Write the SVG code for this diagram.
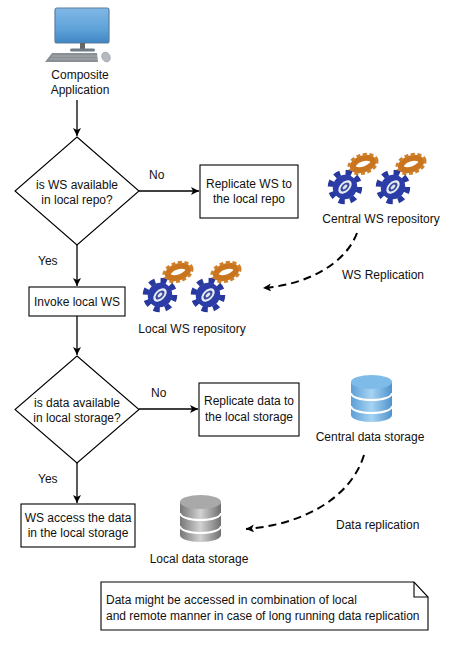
<svg xmlns="http://www.w3.org/2000/svg" xmlns:xlink="http://www.w3.org/1999/xlink" width="457" height="646" viewBox="0 0 457 646">
<style>
text{font-family:"Liberation Sans",Arial,sans-serif;font-size:12px;fill:#111;text-anchor:middle}
.b{fill:#fff;stroke:#000;stroke-width:1.1}
.c{fill:none;stroke:#000;stroke-width:1.3}
.d{fill:none;stroke:#000;stroke-width:2;stroke-dasharray:8 5}
.l{text-anchor:start}
</style>
<defs>
<marker id="a" markerUnits="userSpaceOnUse" markerWidth="10" markerHeight="10" refX="8" refY="4" orient="auto"><path d="M0 0L8 4L0 8L2 4Z" fill="#000"/></marker>
<linearGradient id="sc" x1="0" y1="0" x2="0" y2="1"><stop offset="0" stop-color="#7fb8e6"/><stop offset=".6" stop-color="#5fa2d8"/><stop offset="1" stop-color="#3f86c4"/></linearGradient>
<linearGradient id="bl" x1="0" y1="0" x2="1" y2="0"><stop offset="0" stop-color="#5d9fd6"/><stop offset=".5" stop-color="#a6d3f2"/><stop offset="1" stop-color="#4f93cd"/></linearGradient>
<linearGradient id="gr" x1="0" y1="0" x2="1" y2="0"><stop offset="0" stop-color="#777"/><stop offset=".5" stop-color="#d2d2d2"/><stop offset="1" stop-color="#6f6f6f"/></linearGradient>
<g id="gears">
<g transform="translate(18,-23) rotate(-18)">
<ellipse rx="10.500" ry="5.500" fill="none" stroke="#c9741f" stroke-width="6"/>
<ellipse rx="14.500" ry="9" fill="none" stroke="#d0802a" stroke-width="3" stroke-dasharray="4 2.500"/>
</g>
<g transform="rotate(-45)">
<circle r="14.500" fill="none" stroke="#28389c" stroke-width="5.500" stroke-dasharray="6 5.390"/>
<ellipse rx="12.500" ry="12" fill="#2c3da8"/>
<ellipse rx="8" ry="5" fill="#e8edf5"/>
<ellipse rx="5.500" ry="3.200" fill="#3a4a9a"/>
<ellipse rx="3" ry="1.500" fill="#dfe6f2"/>
</g>
</g>
<g id="db">
<path d="M0 7V40C0 44 9 47 20.500 47S41 44 41 40V7Z" fill="var(--f)"/>
<path d="M0 18C0 22 9 25 20.500 25S41 22 41 18M0 31C0 35 9 38 20.500 38S41 35 41 31" fill="none" stroke="#fff" stroke-width="2"/>
<ellipse cx="20.500" cy="7" rx="20.500" ry="7" fill="var(--t)"/>
</g>
</defs>
<rect width="457" height="646" fill="#fff"/>
<g id="connectors">
<path class="c" marker-end="url(#a)" d="M77 100V136"/>
<path class="c" marker-end="url(#a)" d="M139 191H199"/>
<path class="c" marker-end="url(#a)" d="M77 245V286"/>
<path class="c" marker-end="url(#a)" d="M77 316V355"/>
<path class="c" marker-end="url(#a)" d="M139 409H198"/>
<path class="c" marker-end="url(#a)" d="M77 463V503"/>
<path class="d" marker-end="url(#a)" d="M357 233C345 265 305 285 263 288"/>
<path class="d" marker-end="url(#a)" d="M364 455C350 500 300 525 246 529"/>
</g>
<g id="composite-application">
<rect x="55" y="8" width="54" height="35" rx="2" fill="url(#sc)" stroke="#5a7f9c" stroke-width="1.200"/>
<path d="M80 43h5v6h-5z" fill="#666"/>
<rect x="70" y="48.500" width="25" height="3" rx="1.500" fill="#6f7c86"/>
<path d="M52 53H97L98 62H45Z" fill="#8a8f94"/>
<path d="M52 56H97M50 59H98" stroke="#b5b9bd" stroke-width=".7"/>
<ellipse cx="106" cy="57" rx="4" ry="5" transform="rotate(-30 106 57)" fill="#b4bac0" stroke="#8a9198" stroke-width=".6"/>
<text x="80" y="79">Composite</text>
<text x="80" y="94">Application</text>
</g>
<g id="ws-available">
<path class="b" d="M77 137L139 191L77 245L15 191Z"/>
<text x="77" y="189">is WS available</text>
<text x="77" y="204">in local repo?</text>
</g>
<text class="l" x="149" y="179">No</text>
<text class="l" x="38" y="265">Yes</text>
<g id="replicate-ws">
<rect class="b" x="200" y="165" width="98" height="53"/>
<text x="249" y="188">Replicate WS to</text>
<text x="249" y="203">the local repo</text>
</g>
<g id="central-ws-repository">
<use xlink:href="#gears" href="#gears" x="345" y="187"/>
<use xlink:href="#gears" href="#gears" x="393" y="187"/>
<text x="381" y="223">Central WS repository</text>
</g>
<text class="l" x="342" y="279">WS Replication</text>
<g id="invoke-local-ws">
<rect class="b" x="29" y="287" width="96" height="29"/>
<text x="77" y="306">Invoke local WS</text>
</g>
<g id="local-ws-repository">
<use xlink:href="#gears" href="#gears" x="160" y="295"/>
<use xlink:href="#gears" href="#gears" x="208" y="295"/>
<text x="192" y="333">Local WS repository</text>
</g>
<g id="data-available">
<path class="b" d="M77 356L139 409.500L77 463L15 409.500Z"/>
<text x="77" y="407">is data available</text>
<text x="77" y="422">in local storage?</text>
</g>
<text class="l" x="151" y="397">No</text>
<text class="l" x="38" y="483">Yes</text>
<g id="replicate-data">
<rect class="b" x="199" y="383" width="100" height="53"/>
<text x="249" y="405">Replicate data to</text>
<text x="249" y="421">the local storage</text>
</g>
<g id="central-data-storage">
<use xlink:href="#db" href="#db" x="351" y="375" style="--f:url(#bl);--t:#7fbbe8"/>
<text x="370" y="441">Central data storage</text>
</g>
<text class="l" x="336" y="529">Data replication</text>
<g id="ws-access">
<rect class="b" x="21" y="504" width="114" height="43"/>
<text x="78" y="522">WS access the data</text>
<text x="78" y="537">in the local storage</text>
</g>
<g id="local-data-storage">
<use xlink:href="#db" href="#db" x="180" y="495" style="--f:url(#gr);--t:#a9a9a9"/>
<text x="199" y="563">Local data storage</text>
</g>
<g id="note">
<path class="b" d="M101 582H414L428 597V630H101Z"/>
<path class="b" style="fill:none" d="M414 582V597H428"/>
<text class="l" x="106" y="604">Data might be accessed in combination of local</text>
<text class="l" x="106" y="620">and remote manner in case of long running data replication</text>
</g>
</svg>
